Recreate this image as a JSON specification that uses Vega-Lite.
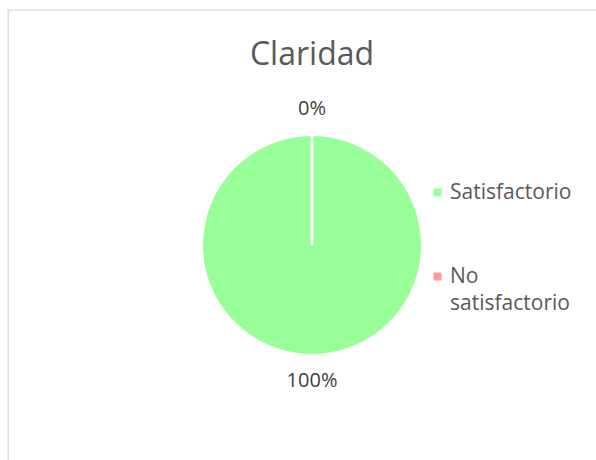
{
  "$schema": "https://vega.github.io/schema/vega-lite/v6.json",
  "width": 608,
  "height": 470,
  "autosize": {"type": "none"},
  "padding": {"left": 8, "top": 10, "right": -20, "bottom": -20},
  "background": "white",
  "view": {"stroke": "#d9d9d9", "strokeWidth": 1.3, "fill": "white"},
  "title": {
    "text": "Claridad",
    "font": "Open Sans",
    "fontSize": 32,
    "fontWeight": "normal",
    "color": "#595959",
    "anchor": "middle",
    "baseline": "alphabetic",
    "offset": -87
  },
  "config": {
    "font": "Open Sans",
    "style": {"guide-label": {"lineHeight": 27}}
  },
  "data": {
    "values": [
      {"categoria": "Satisfactorio", "pct": 1.0, "idx": 1},
      {"categoria": "No satisfactorio", "pct": 0.0, "idx": 2}
    ]
  },
  "encoding": {
    "theta": {"field": "pct", "type": "quantitative", "stack": true},
    "order": {"field": "idx", "type": "quantitative"},
    "color": {
      "field": "categoria",
      "type": "nominal",
      "scale": {"domain": ["Satisfactorio", "No satisfactorio"], "range": ["#99ff99", "#ff9999"]},
      "legend": {
        "title": null,
        "orient": "none",
        "legendX": 419,
        "legendY": 172,
        "padding": 0,
        "symbolType": "square",
        "symbolSize": 64,
        "symbolStrokeWidth": 0,
        "labelFont": "Open Sans",
        "labelFontSize": 21,
        "labelColor": "#595959",
        "labelOffset": 2,
        "labelLimit": 200,
        "rowPadding": 62,
        "labelExpr": "datum.label == 'No satisfactorio' ? ['No', 'satisfactorio'] : datum.label"
      }
    }
  },
  "layer": [
    {
      "mark": {"type": "arc", "outerRadius": 110.5, "stroke": "white", "strokeWidth": 3}
    },
    {
      "mark": {"type": "text", "radius": 136, "font": "Open Sans", "fontSize": 20, "color": "#404040", "baseline": "middle"},
      "encoding": {
        "text": {"field": "pct", "type": "quantitative", "format": ".0%"},
        "color": {"value": "#404040"}
      }
    }
  ]
}
